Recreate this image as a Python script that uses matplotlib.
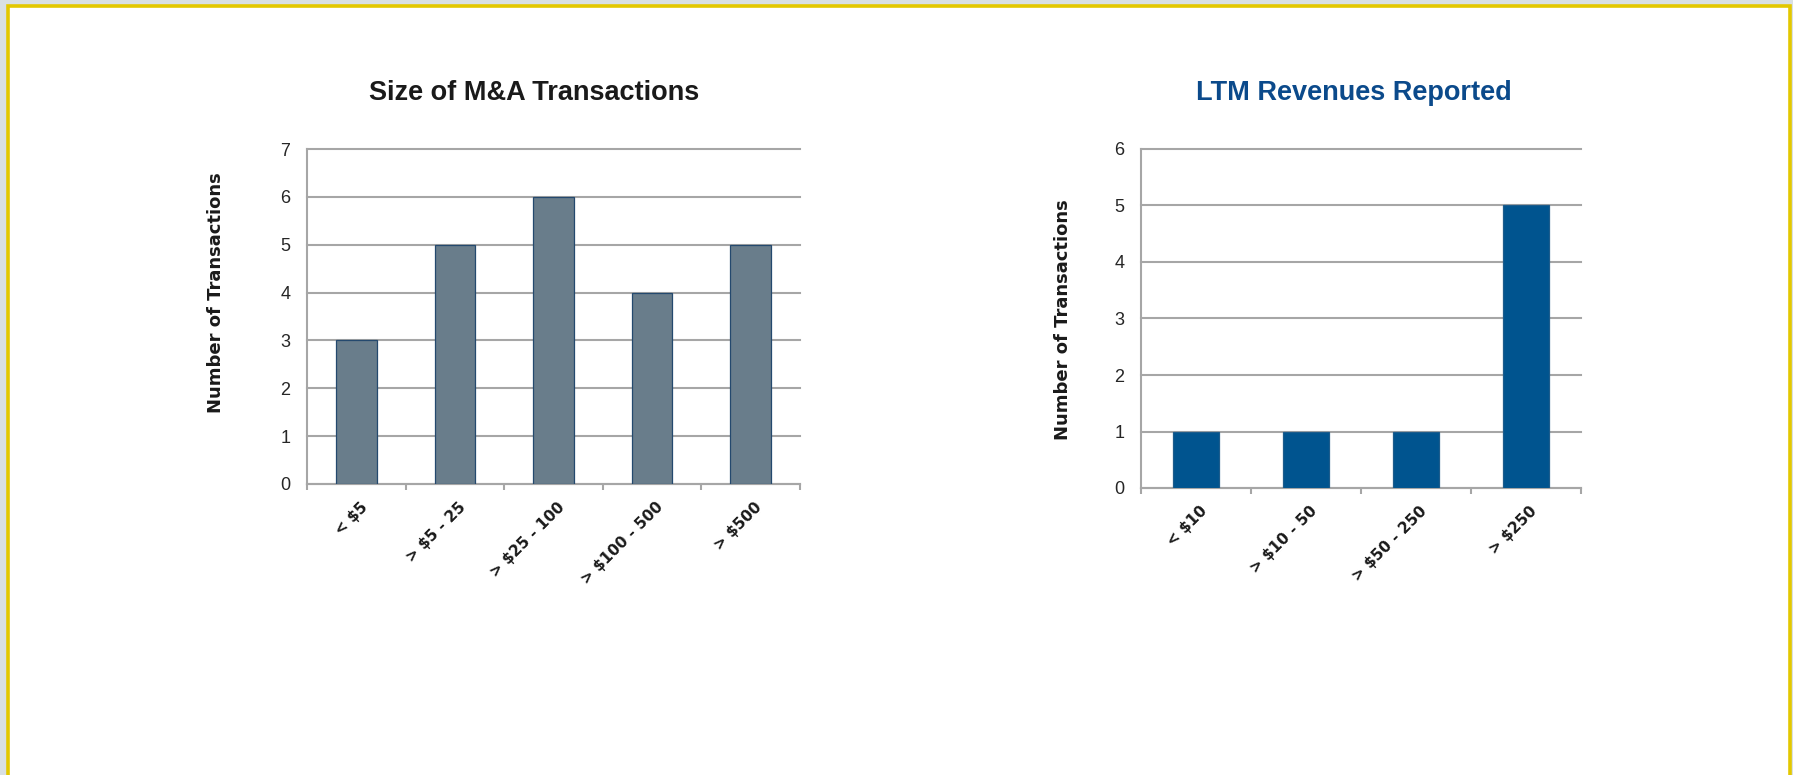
import matplotlib.pyplot as plt
import matplotlib.transforms as mtransforms
from matplotlib.patches import Rectangle

# data
deal_sizes = ['< $5', '> $5 - 25', '> $25 - 100', '> $100 - 500', '> $500']
deal_counts = [3, 5, 6, 4, 5]

rev_sizes = ['< $10', '> $10 - 50', '> $50 - 250', '> $250']
rev_counts = [1, 1, 1, 5]

fig = plt.figure(figsize=(17.93, 7.75), dpi=100, facecolor='#d9e0e3')

# white page with yellow frame, behind everything
fig.patches.append(Rectangle((7.7 / 1793, -0.05), (1790.3 - 7.7) / 1793, 1.05 - 5.7 / 775,
                             transform=fig.transFigure, facecolor='white',
                             edgecolor='#e3c800', linewidth=2.6, zorder=-10))

grid_col = '#a6a6a6'


def bar_panel(rect, cats, vals, ymax, color, edge):
    ax = fig.add_axes(rect)
    ax.patch.set_alpha(0)
    x = range(len(cats))
    ax.bar(x, vals, width=0.41, color=color, edgecolor=edge, linewidth=0.9, zorder=3)
    ax.set_xlim(-0.5, len(cats) - 0.5)
    ax.set_ylim(0, ymax)
    ax.set_yticks(range(ymax + 1))
    ax.yaxis.grid(True, color=grid_col, linewidth=1.5, zorder=0)
    for gl in ax.get_ygridlines():
        gl.set_clip_on(False)
    ax.set_axisbelow(True)
    for s in ['top', 'right']:
        ax.spines[s].set_visible(False)
    for s in ['left', 'bottom']:
        ax.spines[s].set_color(grid_col)
        ax.spines[s].set_linewidth(1.5)
    ax.tick_params(axis='y', length=0, pad=12, labelsize=13, labelcolor='#262626')
    for lab in ax.get_yticklabels():
        lab.set_fontfamily('Liberation Sans')
    ax.set_xticks(list(x))
    ax.set_xticks([i - 0.5 for i in range(len(cats) + 1)], minor=True)
    ax.tick_params(axis='x', which='major', length=0, pad=15)
    ax.tick_params(axis='x', which='minor', length=4, width=1.5, color=grid_col, direction='out')
    ax.set_xticklabels(cats, rotation=45, ha='right', va='center', rotation_mode='anchor',
                       fontsize=11, fontweight='bold', color='#1a1a1a')
    shift = mtransforms.ScaledTranslation(9 / 100, 0, fig.dpi_scale_trans)
    for lab in ax.get_xticklabels():
        lab.set_transform(lab.get_transform() + shift)
    return ax


ax1 = bar_panel([307 / 1793, 1 - 484 / 775, 493 / 1793, 335 / 775],
                deal_sizes, deal_counts, 7, '#697d8b', '#24496e')
ax2 = bar_panel([1141 / 1793, 1 - 488 / 775, 440 / 1793, 339 / 775],
                rev_sizes, rev_counts, 6, '#00548f', '#1d5c8c')

fig.text(534 / 1793, 1 - 93 / 775, 'Size of M&A Transactions', ha='center', va='center',
         fontsize=19.5, fontweight='bold', family='Liberation Sans', color='#1a1a1a')
fig.text(1354 / 1793, 1 - 93 / 775, 'LTM Revenues Reported', ha='center', va='center',
         fontsize=19.5, fontweight='bold', family='Liberation Sans', color='#0b4a8b')

fig.text(216 / 1793, 1 - 293 / 775, 'Number of Transactions', rotation=90, ha='center',
         va='center', fontsize=13, fontweight='bold', color='#1a1a1a')
fig.text(1063 / 1793, 1 - 320 / 775, 'Number of Transactions', rotation=90, ha='center',
         va='center', fontsize=13, fontweight='bold', color='#1a1a1a')

fig.savefig('out.png', dpi=100, facecolor=fig.get_facecolor())
